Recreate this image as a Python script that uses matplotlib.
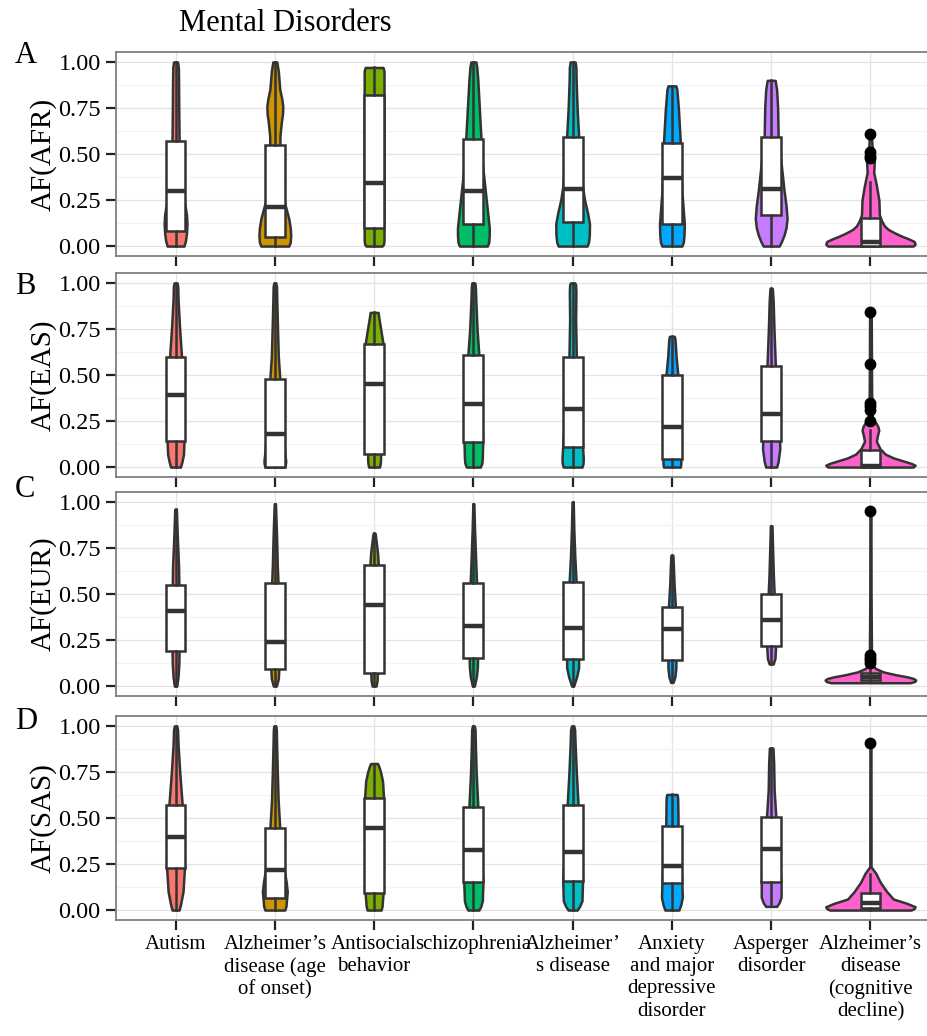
import matplotlib.pyplot as plt

plt.rcParams['font.family'] = ['Liberation Serif', 'DejaVu Serif']

categories = ["Autism", "Alzheimer\u2019s\ndisease (age\nof onset)", "Antisocial\nbehavior",
              "schizophrenia", "Alzheimer\u2019\ns disease",
              "Anxiety\nand major\ndepressive\ndisorder", "Asperger\ndisorder",
              "Alzheimer\u2019s\ndisease\n(cognitive\ndecline)"]
colors = ["#F8766D", "#CD9600", "#7CAE00", "#00BE67", "#00BFC4", "#00A9FF", "#C77CFF", "#FF61CC"]

# violin profiles: allele frequency (y) and half width of the density (w)
afr_y = [[0, 0.03, 0.07, 0.12, 0.17, 0.22, 0.3, 0.4, 0.5, 0.6, 0.75, 0.9, 0.97, 1.0],
         [0, 0.02, 0.06, 0.1, 0.15, 0.2, 0.25, 0.3, 0.4, 0.5, 0.6, 0.67, 0.72, 0.76, 0.8, 0.85, 0.95, 1.0],
         [0, 0.01, 0.03, 0.1, 0.5, 0.9, 0.95, 0.97],
         [0, 0.02, 0.06, 0.1, 0.15, 0.2, 0.3, 0.45, 0.6, 0.75, 0.9, 0.97, 1.0],
         [0, 0.02, 0.06, 0.12, 0.18, 0.25, 0.32, 0.4, 0.6, 0.75, 0.9, 0.97, 1.0],
         [0, 0.02, 0.06, 0.12, 0.3, 0.45, 0.56, 0.75, 0.85, 0.87],
         [0, 0.02, 0.06, 0.1, 0.15, 0.22, 0.3, 0.45, 0.6, 0.75, 0.85, 0.9],
         [0, 0.01, 0.025, 0.04, 0.055, 0.07, 0.09, 0.11, 0.14, 0.17, 0.25, 0.33, 0.40, 0.47, 0.55, 0.61]]
afr_w = [[0.085, 0.1, 0.11, 0.115, 0.11, 0.095, 0.065, 0.047, 0.04, 0.035, 0.032, 0.03, 0.028, 0.02],
         [0.14, 0.155, 0.16, 0.155, 0.14, 0.115, 0.09, 0.07, 0.055, 0.05, 0.052, 0.065, 0.078, 0.08, 0.07, 0.05, 0.035, 0.02],
         [0.08, 0.095, 0.1, 0.1, 0.1, 0.1, 0.1, 0.09],
         [0.14, 0.155, 0.16, 0.16, 0.15, 0.14, 0.12, 0.09, 0.075, 0.06, 0.045, 0.035, 0.025],
         [0.145, 0.16, 0.168, 0.17, 0.15, 0.12, 0.1, 0.09, 0.06, 0.045, 0.035, 0.033, 0.025],
         [0.1, 0.115, 0.122, 0.125, 0.1, 0.09, 0.085, 0.065, 0.05, 0.04],
         [0.08, 0.1, 0.13, 0.15, 0.16, 0.15, 0.13, 0.1, 0.07, 0.065, 0.055, 0.04],
         [0.43, 0.45, 0.44, 0.38, 0.31, 0.25, 0.18, 0.14, 0.11, 0.09, 0.085, 0.06, 0.033, 0.04, 0.015, 0.01]]
afr_q1 = [0.08, 0.05, 0.10, 0.12, 0.13, 0.12, 0.17, 0.0]
afr_med = [0.30, 0.21, 0.34, 0.30, 0.31, 0.37, 0.31, 0.02]
afr_q3 = [0.57, 0.55, 0.82, 0.58, 0.59, 0.56, 0.59, 0.15]
afr_lo = [0, 0, 0, 0, 0, 0, 0, 0]
afr_hi = [1.0, 1.0, 0.97, 1.0, 1.0, 0.87, 0.90, 0.35]
afr_out = [[], [], [], [], [], [], [], [0.61, 0.51, 0.49, 0.48]]

eas_y = [[0, 0.03, 0.07, 0.14, 0.3, 0.45, 0.6, 0.76, 0.91, 0.98, 1.0],
         [0, 0.01, 0.03, 0.08, 0.2, 0.35, 0.48, 0.6, 0.75, 0.9, 0.98, 1.0],
         [0, 0.02, 0.04, 0.073, 0.3, 0.5, 0.67, 0.72, 0.77, 0.81, 0.84],
         [0, 0.02, 0.05, 0.13, 0.3, 0.45, 0.61, 0.75, 0.9, 0.98, 1.0],
         [0, 0.02, 0.05, 0.11, 0.3, 0.45, 0.6, 0.8, 0.95, 0.99, 1.0],
         [0, 0.02, 0.045, 0.2, 0.35, 0.5, 0.6, 0.69, 0.71],
         [0, 0.03, 0.1, 0.14, 0.3, 0.45, 0.55, 0.75, 0.9, 0.97],
         [0, 0.01, 0.02, 0.035, 0.05, 0.07, 0.1, 0.14, 0.17, 0.2, 0.22, 0.24, 0.26, 0.4, 0.6, 0.84]]
eas_w = [[0.05, 0.065, 0.08, 0.085, 0.08, 0.07, 0.06, 0.04, 0.025, 0.022, 0.015],
         [0.095, 0.105, 0.11, 0.1, 0.08, 0.06, 0.05, 0.035, 0.027, 0.02, 0.017, 0.01],
         [0.055, 0.062, 0.065, 0.065, 0.085, 0.09, 0.09, 0.075, 0.06, 0.048, 0.04],
         [0.07, 0.085, 0.09, 0.094, 0.085, 0.07, 0.055, 0.037, 0.025, 0.02, 0.015],
         [0.095, 0.105, 0.107, 0.1, 0.08, 0.05, 0.037, 0.03, 0.033, 0.03, 0.022],
         [0.085, 0.09, 0.09, 0.085, 0.075, 0.06, 0.042, 0.032, 0.025],
         [0.055, 0.07, 0.087, 0.085, 0.07, 0.05, 0.042, 0.028, 0.02, 0.012],
         [0.43, 0.45, 0.41, 0.32, 0.23, 0.15, 0.096, 0.06, 0.07, 0.084, 0.075, 0.054, 0.02, 0.012, 0.01, 0.008]]
eas_q1 = [0.14, 0.0, 0.073, 0.135, 0.11, 0.045, 0.14, 0.0]
eas_med = [0.39, 0.18, 0.45, 0.34, 0.315, 0.22, 0.29, 0.005]
eas_q3 = [0.60, 0.48, 0.67, 0.61, 0.60, 0.50, 0.55, 0.09]
eas_lo = [0, 0, 0, 0, 0, 0, 0, 0]
eas_hi = [1.0, 1.0, 0.84, 1.0, 1.0, 0.71, 0.97, 0.2]
eas_out = [[], [], [], [], [], [], [], [0.84, 0.56, 0.35, 0.33, 0.31, 0.25]]

eur_y = [[0, 0.05, 0.12, 0.19, 0.4, 0.55, 0.65, 0.75, 0.85, 0.96],
         [0, 0.04, 0.09, 0.3, 0.56, 0.65, 0.8, 0.9, 0.99],
         [0, 0.03, 0.072, 0.4, 0.66, 0.72, 0.78, 0.83],
         [0, 0.05, 0.1, 0.15, 0.4, 0.56, 0.7, 0.85, 0.99],
         [0, 0.05, 0.1, 0.145, 0.4, 0.567, 0.7, 0.85, 1.0],
         [0.02, 0.05, 0.1, 0.141, 0.3, 0.43, 0.55, 0.65, 0.71],
         [0.12, 0.15, 0.217, 0.35, 0.5, 0.6, 0.75, 0.87],
         [0.018, 0.025, 0.033, 0.042, 0.05, 0.062, 0.077, 0.095, 0.11, 0.2, 0.5, 0.95]]
eur_w = [[0.012, 0.025, 0.033, 0.035, 0.035, 0.033, 0.03, 0.022, 0.015, 0.008],
         [0.015, 0.035, 0.04, 0.04, 0.032, 0.025, 0.018, 0.012, 0.006],
         [0.02, 0.03, 0.033, 0.04, 0.042, 0.035, 0.022, 0.01],
         [0.01, 0.03, 0.04, 0.042, 0.04, 0.032, 0.022, 0.012, 0.005],
         [0.01, 0.04, 0.06, 0.06, 0.05, 0.035, 0.022, 0.012, 0.006],
         [0.012, 0.03, 0.04, 0.04, 0.04, 0.035, 0.022, 0.015, 0.01],
         [0.02, 0.038, 0.045, 0.04, 0.03, 0.022, 0.014, 0.008],
         [0.4, 0.445, 0.457, 0.43, 0.37, 0.25, 0.13, 0.054, 0.025, 0.01, 0.006, 0.005]]
eur_q1 = [0.19, 0.09, 0.072, 0.15, 0.145, 0.141, 0.217, 0.033]
eur_med = [0.41, 0.237, 0.44, 0.326, 0.317, 0.31, 0.36, 0.05]
eur_q3 = [0.55, 0.56, 0.66, 0.56, 0.567, 0.43, 0.50, 0.072]
eur_lo = [0, 0, 0, 0, 0, 0.02, 0.12, 0.02]
eur_hi = [0.96, 0.99, 0.83, 0.99, 1.0, 0.71, 0.87, 0.11]
eur_out = [[], [], [], [], [], [], [], [0.95, 0.17, 0.155, 0.14, 0.125]]

sas_y = [[0, 0.03, 0.1, 0.23, 0.4, 0.57, 0.75, 0.9, 0.98, 1.0],
         [0, 0.02, 0.05, 0.1, 0.15, 0.2, 0.3, 0.44, 0.6, 0.75, 0.9, 0.98, 1.0],
         [0, 0.02, 0.09, 0.3, 0.61, 0.7, 0.75, 0.78, 0.796],
         [0, 0.02, 0.05, 0.155, 0.35, 0.56, 0.75, 0.9, 0.98, 1.0],
         [0, 0.02, 0.05, 0.16, 0.35, 0.57, 0.75, 0.9, 0.98, 1.0],
         [0.0, 0.03, 0.07, 0.15, 0.3, 0.455, 0.55, 0.61, 0.628],
         [0.02, 0.04, 0.07, 0.15, 0.3, 0.507, 0.65, 0.8, 0.88],
         [0, 0.008, 0.018, 0.036, 0.06, 0.1, 0.15, 0.2, 0.235, 0.9]]
sas_w = [[0.035, 0.05, 0.075, 0.09, 0.08, 0.067, 0.042, 0.025, 0.02, 0.012],
         [0.1, 0.112, 0.117, 0.125, 0.115, 0.1, 0.07, 0.05, 0.033, 0.025, 0.018, 0.015, 0.01],
         [0.07, 0.08, 0.09, 0.095, 0.095, 0.085, 0.065, 0.048, 0.035],
         [0.055, 0.075, 0.09, 0.097, 0.07, 0.045, 0.028, 0.02, 0.017, 0.01],
         [0.045, 0.07, 0.094, 0.1, 0.08, 0.055, 0.037, 0.025, 0.02, 0.012],
         [0.07, 0.09, 0.105, 0.1, 0.085, 0.062, 0.06, 0.058, 0.052],
         [0.055, 0.08, 0.1, 0.1, 0.075, 0.047, 0.03, 0.025, 0.018],
         [0.41, 0.44, 0.45, 0.37, 0.23, 0.165, 0.1, 0.054, 0.006, 0.005]]
sas_q1 = [0.23, 0.067, 0.09, 0.155, 0.16, 0.149, 0.15, 0.013]
sas_med = [0.397, 0.215, 0.446, 0.324, 0.318, 0.24, 0.33, 0.036]
sas_q3 = [0.568, 0.443, 0.61, 0.56, 0.57, 0.455, 0.507, 0.095]
sas_lo = [0, 0, 0, 0, 0, 0, 0.02, 0]
sas_hi = [1.0, 1.0, 0.796, 1.0, 1.0, 0.628, 0.88, 0.195]
sas_out = [[], [], [], [], [], [], [], [0.907]]

panels = [
    ("A", "AF(AFR)", afr_y, afr_w, afr_q1, afr_med, afr_q3, afr_lo, afr_hi, afr_out),
    ("B", "AF(EAS)", eas_y, eas_w, eas_q1, eas_med, eas_q3, eas_lo, eas_hi, eas_out),
    ("C", "AF(EUR)", eur_y, eur_w, eur_q1, eur_med, eur_q3, eur_lo, eur_hi, eur_out),
    ("D", "AF(SAS)", sas_y, sas_w, sas_q1, sas_med, sas_q3, sas_lo, sas_hi, sas_out),
]

W, H = 928, 1036
fig = plt.figure(figsize=(W / 100, H / 100), dpi=100)

# panel tops in pixels, letter baselines in pixels
tops = [52, 273, 492, 716]
letter_base = [63, 294, 497, 729]
dark = "#333333"

for k, (letter, ylab, ys, ws, q1, med, q3, lo, hi, out) in enumerate(panels):
    ax = fig.add_axes([116 / W, 1 - (tops[k] + 204) / H, 814 / W, 204 / H])
    pos = list(range(1, len(categories) + 1))
    for i in range(len(categories)):
        p = pos[i]
        left = [p - w for w in ws[i]]
        right = [p + w for w in ws[i]]
        ax.fill_betweenx(ys[i], left, right, facecolor=colors[i], edgecolor=dark,
                         linewidth=1.8, joinstyle="round", zorder=2)
    stats = [dict(q1=q1[i], med=med[i], q3=q3[i], whislo=lo[i], whishi=hi[i], fliers=out[i])
             for i in range(len(categories))]
    ax.bxp(stats, positions=pos, widths=0.2, patch_artist=True, showcaps=False,
           boxprops=dict(facecolor="white", edgecolor=dark, linewidth=1.8),
           medianprops=dict(color=dark, linewidth=3.2, solid_capstyle="butt"),
           whiskerprops=dict(color=dark, linewidth=1.8),
           flierprops=dict(marker="o", markerfacecolor="black", markeredgecolor="black",
                           markersize=7.5),
           zorder=3)
    ax.set_xlim(0.4, 8.6)
    ax.set_ylim(-0.054, 1.054)
    ax.set_yticks([0, 0.25, 0.5, 0.75, 1.0])
    ax.set_yticklabels(["0.00", "0.25", "0.50", "0.75", "1.00"])
    ax.set_yticks([0.125, 0.375, 0.625, 0.875], minor=True)
    ax.set_xticks(pos)
    if k == 3:
        ax.set_xticklabels(categories, fontsize=15, va="top", linespacing=1.22)
    else:
        ax.set_xticklabels([])
    ax.grid(True, which="major", color="#e3e3e3", linewidth=0.9, zorder=0)
    ax.grid(True, which="minor", axis="y", color="#f3f3f3", linewidth=0.9, zorder=0)
    ax.set_axisbelow(True)
    ax.tick_params(axis="both", which="major", length=7, width=1.6, color="#222222",
                   labelsize=17.5, pad=4)
    ax.tick_params(axis="x", which="major", labelsize=15, pad=4)
    ax.tick_params(axis="y", which="minor", length=0)
    for s in ax.spines.values():
        s.set_color("#7f7f7f")
        s.set_linewidth(1.3)
    ax.set_ylabel(ylab, fontsize=21, labelpad=1)
    fig.text(15 / W, 1 - letter_base[k] / H, letter, fontsize=22, va="baseline", ha="left")

fig.text(285 / W, 1 - 31 / H, "Mental Disorders", fontsize=22, ha="center", va="baseline")

fig.savefig("out.png", dpi=100)
